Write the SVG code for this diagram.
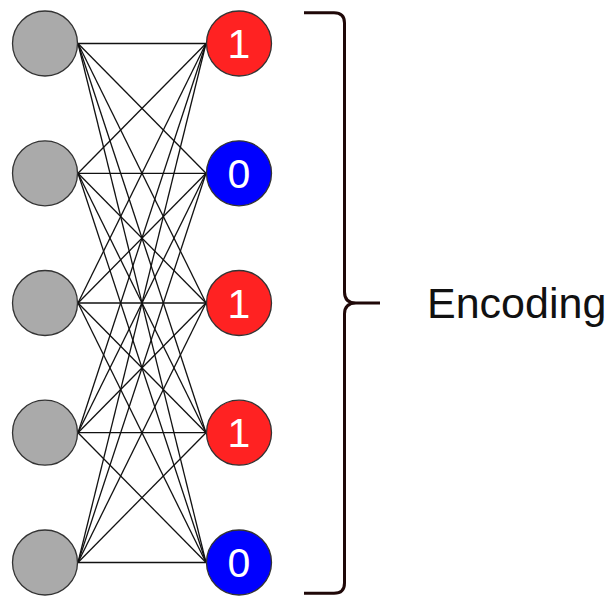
<svg xmlns="http://www.w3.org/2000/svg" width="614" height="597" viewBox="0 0 614 597">
<style>
.in{fill:#aaaaaa;stroke:#333;stroke-width:1.3}
.red{fill:#ff2222;stroke:#333;stroke-width:1.3}
.blue{fill:#0000ff;stroke:#333;stroke-width:1.3}
.num{font-family:"Liberation Sans",Arial,sans-serif;font-size:41px;fill:#fff;text-anchor:middle}
.lbl{font-family:"Liberation Sans",Arial,sans-serif;font-size:43px;fill:#111}
#edges line{stroke:#111;stroke-width:1.3}
</style>
<rect width="614" height="597" fill="#fff"/>
<g id="edges">
<line x1="78" y1="43.5" x2="206" y2="43.5"/><line x1="78" y1="43.5" x2="206" y2="173.3"/><line x1="78" y1="43.5" x2="206" y2="303"/><line x1="78" y1="43.5" x2="206" y2="432.7"/><line x1="78" y1="43.5" x2="206" y2="562.5"/>
<line x1="78" y1="173.3" x2="206" y2="43.5"/><line x1="78" y1="173.3" x2="206" y2="173.3"/><line x1="78" y1="173.3" x2="206" y2="303"/><line x1="78" y1="173.3" x2="206" y2="432.7"/><line x1="78" y1="173.3" x2="206" y2="562.5"/>
<line x1="78" y1="303" x2="206" y2="43.5"/><line x1="78" y1="303" x2="206" y2="173.3"/><line x1="78" y1="303" x2="206" y2="303"/><line x1="78" y1="303" x2="206" y2="432.7"/><line x1="78" y1="303" x2="206" y2="562.5"/>
<line x1="78" y1="432.7" x2="206" y2="43.5"/><line x1="78" y1="432.7" x2="206" y2="173.3"/><line x1="78" y1="432.7" x2="206" y2="303"/><line x1="78" y1="432.7" x2="206" y2="432.7"/><line x1="78" y1="432.7" x2="206" y2="562.5"/>
<line x1="78" y1="562.5" x2="206" y2="43.5"/><line x1="78" y1="562.5" x2="206" y2="173.3"/><line x1="78" y1="562.5" x2="206" y2="303"/><line x1="78" y1="562.5" x2="206" y2="432.7"/><line x1="78" y1="562.5" x2="206" y2="562.5"/>
</g>
<g id="in1"><circle class="in" cx="45" cy="43.5" r="32.5"/></g>
<g id="in2"><circle class="in" cx="45" cy="173.3" r="32.5"/></g>
<g id="in3"><circle class="in" cx="45" cy="303" r="32.5"/></g>
<g id="in4"><circle class="in" cx="45" cy="432.7" r="32.5"/></g>
<g id="in5"><circle class="in" cx="45" cy="562.5" r="32.5"/></g>
<g id="out1"><circle class="red" cx="239" cy="43.5" r="32.5"/><text class="num" x="239" y="58">1</text></g>
<g id="out2"><circle class="blue" cx="239" cy="173.3" r="32.5"/><text class="num" x="239" y="187.8">0</text></g>
<g id="out3"><circle class="red" cx="239" cy="303" r="32.5"/><text class="num" x="239" y="317.5">1</text></g>
<g id="out4"><circle class="red" cx="239" cy="432.7" r="32.5"/><text class="num" x="239" y="447.2">1</text></g>
<g id="out5"><circle class="blue" cx="239" cy="562.5" r="32.5"/><text class="num" x="239" y="577">0</text></g>
<g id="brace"><path d="M304,12.7 H334 Q344.5,12.7 344.5,23 V292 Q344.5,303 356,303 H380 M356,303 Q344.5,303 344.5,314 V583 Q344.5,593.3 334,593.3 H304" fill="none" stroke="#1f0808" stroke-width="3"/></g>
<g id="label"><text class="lbl" x="427" y="317.5">Encoding</text></g>
</svg>
